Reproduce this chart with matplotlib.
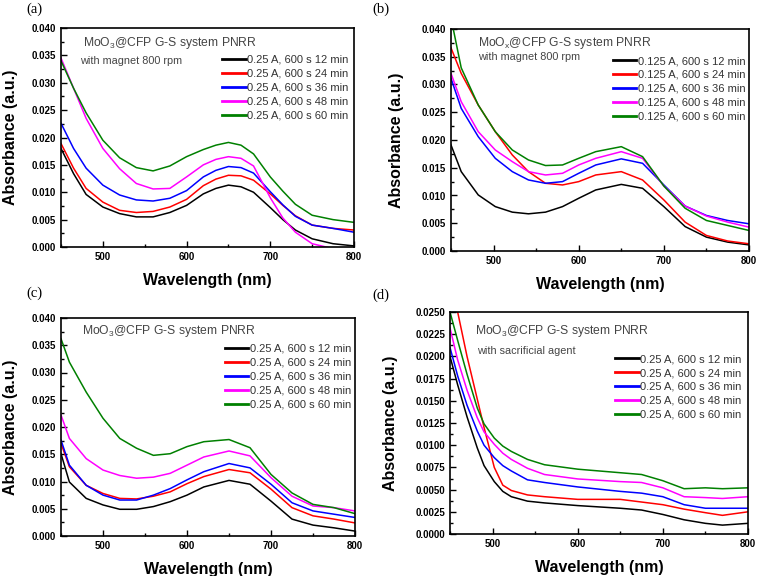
import matplotlib
matplotlib.use("Agg")
import matplotlib.pyplot as plt
from matplotlib.ticker import MultipleLocator, FormatStrFormatter

plt.rcParams['font.family'] = ['Liberation Sans', 'DejaVu Sans']
plt.rcParams['mathtext.default'] = 'regular'

colors = ['black', '#ff0000', '#0000ff', '#ff00ff', '#008000']

# panel (a)
wl_a = [450, 465, 480, 500, 520, 540, 560, 580, 600, 620, 635, 650, 665, 680, 700, 715, 730, 750, 775, 800]
a_12 = [.0180, .0134, .0096, .0073, .0061, .0055, .0055, .0063, .0076, .0097, .0107, .0113, .0110, .0100, .0072, .0050, .0031, .0015, .0006, .0002]
a_24 = [.0189, .0144, .0107, .0082, .0067, .0063, .0065, .0073, .0087, .0112, .0124, .0131, .0130, .0122, .0097, .0076, .0057, .0040, .0034, .0031]
a_36 = [.0226, .0180, .0144, .0113, .0095, .0086, .0084, .0089, .0103, .0128, .0140, .0147, .0145, .0135, .0101, .0077, .0056, .0040, .0034, .0027]
a_48 = [.0345, .0290, .0235, .0180, .0143, .0116, .0106, .0107, .0128, .0150, .0160, .0165, .0162, .0148, .0090, .0053, .0027, .0006, -.0003, -.0005]
a_60 = [.0340, .0290, .0245, .0195, .0163, .0145, .0139, .0148, .0165, .0178, .0186, .0191, .0186, .0170, .0128, .0102, .0078, .0058, .0050, .0045]

# panel (b)
wl_b = [450, 462, 482, 502, 522, 541, 561, 581, 600, 620, 650, 675, 700, 725, 750, 775, 800]
b_12 = [.0191, .0143, .0101, .0080, .0070, .0067, .0070, .0080, .0095, .0110, .0120, .0113, .0080, .0044, .0025, .0016, .0011]
b_24 = [.0366, .0320, .0263, .0215, .0173, .0143, .0122, .0119, .0125, .0137, .0143, .0128, .0092, .0052, .0028, .0018, .0013]
b_36 = [.0311, .0257, .0206, .0167, .0143, .0128, .0122, .0125, .0140, .0155, .0166, .0158, .0119, .0081, .0064, .0055, .0049]
b_48 = [.0320, .0269, .0215, .0182, .0161, .0143, .0137, .0140, .0155, .0167, .0179, .0167, .0117, .0081, .0063, .0052, .0043]
b_60 = [.0420, .0330, .0263, .0215, .0182, .0164, .0154, .0155, .0167, .0179, .0188, .0170, .0117, .0077, .0055, .0046, .0037]

# panel (c)
wl_c = [450, 460, 480, 500, 520, 540, 560, 580, 600, 620, 650, 675, 700, 725, 750, 775, 800]
c_12 = [.0151, .0099, .0069, .0057, .0049, .0049, .0054, .0063, .0075, .0090, .0102, .0095, .0064, .0031, .0020, .0015, .0009]
c_24 = [.0170, .0127, .0093, .0078, .0069, .0068, .0073, .0081, .0096, .0109, .0122, .0116, .0086, .0052, .0037, .0031, .0024]
c_36 = [.0176, .0130, .0093, .0075, .0066, .0066, .0075, .0087, .0103, .0118, .0133, .0125, .0095, .0061, .0046, .0040, .0034]
c_48 = [.0222, .0179, .0142, .0121, .0111, .0106, .0108, .0115, .0130, .0145, .0156, .0147, .0107, .0073, .0055, .0052, .0046]
c_60 = [.0362, .0319, .0264, .0216, .0179, .0161, .0148, .0151, .0164, .0173, .0177, .0162, .0113, .0079, .0058, .0052, .0041]

# panel (d)
wl_d = [450, 459, 470, 482, 490, 502, 512, 522, 541, 561, 600, 650, 675, 700, 725, 750, 770, 800]
d_12 = [.0200, .0168, .0132, .0097, .0077, .0059, .0048, .0042, .0037, .0035, .0032, .0029, .0027, .0022, .0016, .0012, .0010, .0012]
d_24 = [.0300, .0250, .0200, .0152, .0120, .0075, .0055, .0049, .0044, .0042, .0039, .0039, .0036, .0033, .0028, .0024, .0021, .0025]
d_36 = [.0210, .0178, .0145, .0116, .0100, .0086, .0077, .0071, .0061, .0058, .0053, .0048, .0046, .0042, .0033, .0029, .0029, .0029]
d_48 = [.0232, .0196, .0162, .0131, .0115, .0101, .0091, .0084, .0074, .0067, .0062, .0059, .0058, .0052, .0042, .0041, .0040, .0042]
d_60 = [.0250, .0218, .0180, .0142, .0124, .0108, .0099, .0093, .0084, .0078, .0073, .0069, .0067, .0060, .0051, .0052, .0051, .0052]

labels_025 = ['0.25 A, 600 s 12 min', '0.25 A, 600 s 24 min', '0.25 A, 600 s 36 min',
              '0.25 A, 600 s 48 min', '0.25 A, 600 s 60 min']
labels_0125 = ['0.125 A, 600 s 12 min', '0.125 A, 600 s 24 min', '0.125 A, 600 s 36 min',
               '0.125 A, 600 s 48 min', '0.125 A, 600 s 60 min']

W, H = 758, 576

# tag, axes rect (px: left, top, right, bottom), data, labels, texts, y range,
# tag pos (px), title pos, sub pos, legend anchor, ylabel pad
panels = [
    ('(a)', (61, 28, 354, 247), wl_a, [a_12, a_24, a_36, a_48, a_60], labels_025,
     'MoO$_3$@CFP G-S system PNRR', 'with magnet 800 rpm', 0.040, 0.005,
     (26, 9), (0.075, 0.93), (0.065, 0.85), (0.98, 0.877), 10),
    ('(b)', (451, 29, 749, 251), wl_b, [b_12, b_24, b_36, b_48, b_60], labels_0125,
     'MoO$_x$@CFP G-S system PNRR', 'with magnet 800 rpm', 0.040, 0.005,
     (372, 9), (0.09, 0.937), (0.09, 0.874), (0.987, 0.878), 12.5),
    ('(c)', (61, 318, 355, 536), wl_c, [c_12, c_24, c_36, c_48, c_60], labels_025,
     'MoO$_3$@CFP G-S system PNRR', None, 0.040, 0.005,
     (26, 293), (0.072, 0.94), None, (0.986, 0.881), 10),
    ('(d)', (450, 312, 748, 534), wl_d, [d_12, d_24, d_36, d_48, d_60], labels_025,
     'MoO$_3$@CFP G-S system PNRR', 'with sacrificial agent', 0.025, 0.0025,
     (372, 295), (0.084, 0.915), (0.09, 0.824), (0.977, 0.81), 12.5),
]

fig = plt.figure(figsize=(7.58, 5.76), dpi=100)

for (tag, box, wl, series, labels, title, sub, ymax, ystep,
     tagpos, tpos, spos, legpos, ypad) in panels:
    l, t, r, b = box
    ax = fig.add_axes([l / W, 1 - b / H, (r - l) / W, (b - t) / H])
    for ys, c, lab in zip(series, colors, labels):
        ax.plot(wl, ys, color=c, lw=1.1, label=lab)
    ax.set_xlim(450, 800)
    ax.set_ylim(0, ymax)
    ax.xaxis.set_minor_locator(MultipleLocator(50))
    ax.yaxis.set_major_locator(MultipleLocator(ystep))
    ax.yaxis.set_minor_locator(MultipleLocator(ystep / 2))
    ax.yaxis.set_major_formatter(FormatStrFormatter('%.3f' if ystep >= 0.005 else '%.4f'))
    ax.set_xticks([500, 600, 700, 800])
    ax.tick_params(which='both', direction='in', top=False, right=False, width=1)
    ax.tick_params(which='major', length=4, labelsize=7)
    ax.tick_params(which='minor', length=2)
    for lbl in ax.get_xticklabels() + ax.get_yticklabels():
        lbl.set_fontweight('bold')
    for s in ax.spines.values():
        s.set_linewidth(1.2)
    ax.set_xlabel('Wavelength (nm)', fontsize=11.5, fontweight='bold', labelpad=8)
    ax.set_ylabel('Absorbance (a.u.)', fontsize=11.5, fontweight='bold', labelpad=ypad)
    ax.text(tpos[0], tpos[1], title, transform=ax.transAxes, fontsize=8.7,
            color='#444444', va='center')
    if sub:
        ax.text(spos[0], spos[1], sub, transform=ax.transAxes, fontsize=7.8,
                color='#444444', va='center')
    leg = ax.legend(loc='upper right', bbox_to_anchor=legpos, frameon=False, fontsize=8,
                    handlelength=2.1, handletextpad=0.1, labelspacing=0.35,
                    borderaxespad=0, borderpad=0, labelcolor='#333333')
    for ln in leg.get_lines():
        ln.set_linewidth(2)
    fig.text(tagpos[0] / W, 1 - tagpos[1] / H, tag, family='Liberation Serif',
             fontsize=10.5, va='center', ha='left')

fig.savefig('out.png', dpi=100)
